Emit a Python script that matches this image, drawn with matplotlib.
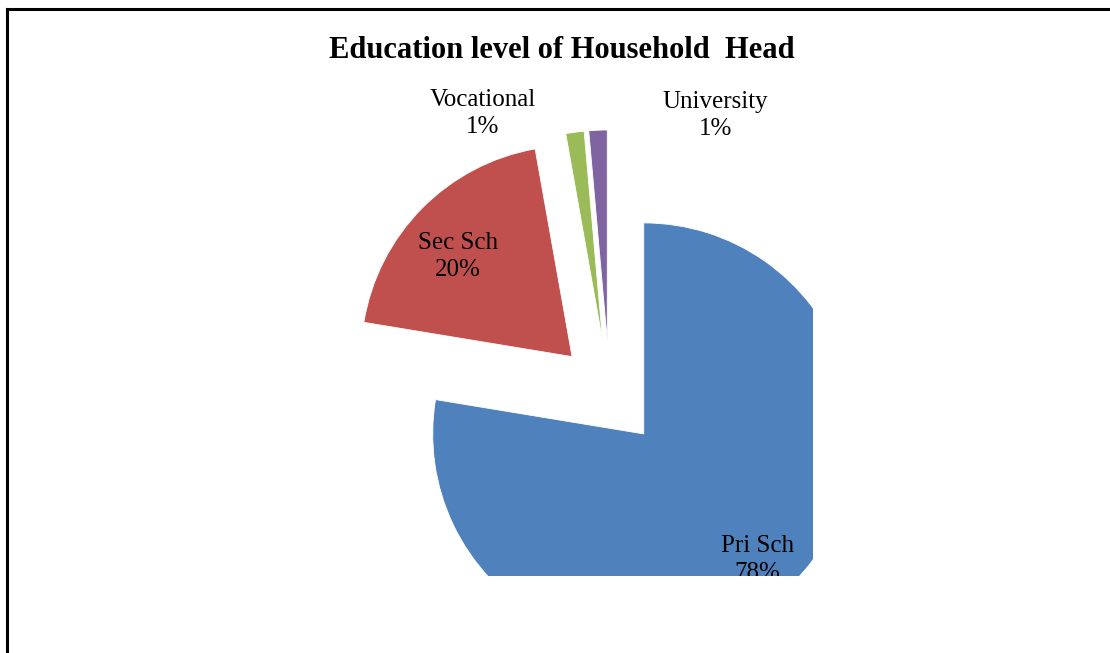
import matplotlib.pyplot as plt
from matplotlib.lines import Line2D

# data
categories = ['Pri Sch', 'Sec Sch', 'Vocational', 'University']
shares = [77.6, 19.6, 1.4, 1.4]
colors = ['#4F81BD', '#C0504D', '#9BBB59', '#8064A2']

# label centres (data units, pie radius = 1)
label_pos = [(0.70, -0.785), (-0.72, 0.65), (-0.60, 1.33), (0.50, 1.32)]

W, H = 1110, 653
fig = plt.figure(figsize=(W / 100, H / 100), dpi=100)

# plot area in pixels: left, top, right, bottom
pl, pt, pr, pb = 300, 90, 813, 576
ax = fig.add_axes([pl / W, (H - pb) / H, (pr - pl) / W, (pb - pt) / H])

wedges, _ = ax.pie(shares, colors=colors, startangle=90, counterclock=False,
                   explode=[0.25] * 4, radius=1.0,
                   wedgeprops={'edgecolor': 'white', 'linewidth': 0.6})
for w in wedges:
    w.set_clip_on(True)
    w.set_clip_path(ax.patch)

# pie centre & scale in pixels
cx, cy, scale = 609.6, 393.7, 211.0
ax.set_aspect('auto')
ax.set_xlim((pl - cx) / scale, (pr - cx) / scale)
ax.set_ylim((cy - pb) / scale, (cy - pt) / scale)
ax.axis('off')

for i, (name, val) in enumerate(zip(categories, shares)):
    x, y = label_pos[i]
    t = ax.text(x, y, '%s\n%d%%' % (name, round(val)), ha='center', va='center',
                fontsize=18, family='Liberation Serif', linespacing=1.3)
    if i == 0:
        t.set_clip_on(True)
        t.set_clip_path(ax.patch)

fig.text(562 / W, 1 - 51 / H, 'Education level of Household  Head',
         ha='center', va='center', fontsize=22, fontweight='bold',
         family='Liberation Serif')

# frame (only left and top edges are visible)
fig.add_artist(Line2D([7 / W, 7 / W], [0, 1 - 9 / H], color='black', lw=2.2))
fig.add_artist(Line2D([7 / W, 1], [1 - 9 / H, 1 - 9 / H], color='black', lw=2.2))

fig.savefig('out.png', dpi=100)
